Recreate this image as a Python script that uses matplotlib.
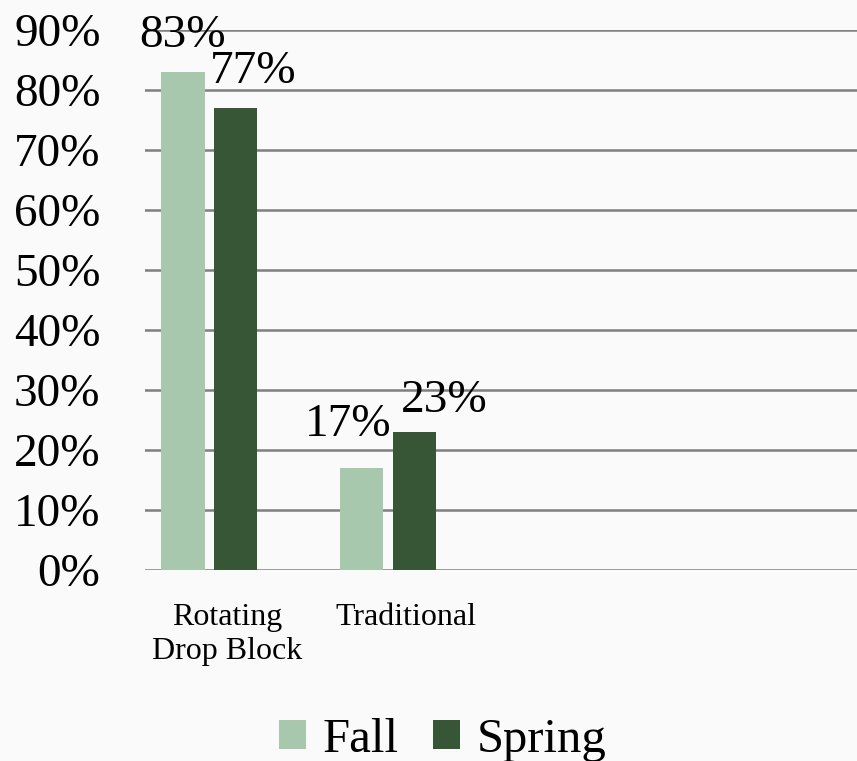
import matplotlib
matplotlib.use("Agg")
import matplotlib.pyplot as plt
import matplotlib.transforms as mtransforms
import numpy as np

categories = ["Rotating\nDrop Block", "Traditional", "", ""]
fall = [83, 17, None, None]
spring = [77, 23, None, None]
series_names = ["Fall", "Spring"]
yticks = [0, 10, 20, 30, 40, 50, 60, 70, 80, 90]
ytick_labels = [f"{v}%" for v in yticks]

# label pixel offsets (style)
fall_label_dx = [0, -13, 0, 0]
fall_label_dy = [15, 22, 0, 0]
spring_label_dx = [18, 30, 0, 0]
spring_label_dy = [15, 10, 0, 0]

plt.rcParams['font.family'] = ['Liberation Serif', 'DejaVu Serif']

fig = plt.figure(figsize=(8.57, 7.61), dpi=100)
bg = '#fafafa'
fig.patch.set_facecolor(bg)
ax = fig.add_axes([145/857, (761-570)/761, 1 - 145/857, 540/761])
ax.set_facecolor(bg)

c_fall = '#a8c8ad'
c_spring = '#375636'
x = np.arange(len(categories))
w = 0.245
off = 0.148

fv = [v if v is not None else 0 for v in fall]
sv = [v if v is not None else 0 for v in spring]
b1 = ax.bar(x[:2] - off, fv[:2], width=w, color=c_fall, label=series_names[0], zorder=3)
b2 = ax.bar(x[:2] + off, sv[:2], width=w, color=c_spring, label=series_names[1], zorder=3)

for i in range(2):
    ax.annotate(f"{fall[i]}%", (x[i] - off, fall[i]), xytext=(fall_label_dx[i], fall_label_dy[i]),
                textcoords='offset pixels', ha='center', va='bottom', fontsize=34)
    ax.annotate(f"{spring[i]}%", (x[i] + off, spring[i]), xytext=(spring_label_dx[i], spring_label_dy[i]),
                textcoords='offset pixels', ha='center', va='bottom', fontsize=34)

ax.set_ylim(0, 90)
ax.set_xlim(-0.358, 3.62)
ax.set_yticks(yticks)
ax.set_yticklabels(ytick_labels, fontsize=34)
ax.yaxis.grid(True, color='#7f7f7f', linewidth=1.8, zorder=0)
ax.tick_params(axis='y', length=0, pad=32)
ax.set_xticks(x)
ax.set_xticklabels(categories, fontsize=23, linespacing=1.2)
ax.tick_params(axis='x', length=0, pad=24)
shift = mtransforms.ScaledTranslation(18/100, 0, fig.dpi_scale_trans)
for lab in ax.get_xticklabels():
    lab.set_transform(lab.get_transform() + shift)
for s in ax.spines.values():
    s.set_visible(False)

fig.legend(handles=[b1, b2], labels=series_names, loc='center', bbox_to_anchor=(443/857, 1 - 740/761),
           ncol=2, frameon=False, fontsize=35, handlelength=0.55, handleheight=0.55,
           handletextpad=0.35, columnspacing=0.7)

fig.savefig("out.png", dpi=100, facecolor=bg)
